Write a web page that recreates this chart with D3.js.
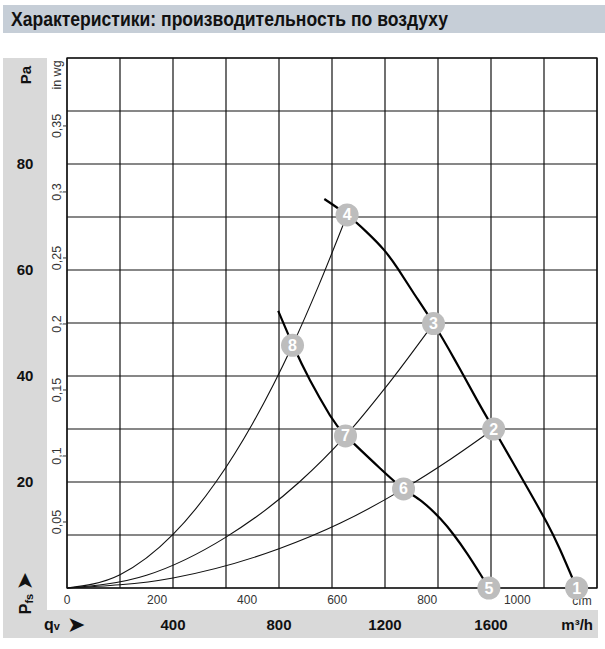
<!DOCTYPE html>
<html><head><meta charset="utf-8">
<script src="https://cdn.jsdelivr.net/npm/d3@7/dist/d3.min.js"></script>
<style>body{margin:0;background:#fff}svg{display:block}</style>
</head><body>
<svg id="c" width="605" height="649"></svg>
<script>
// ---- data (flow q in m³/h, static pressure in Pa) ----
const titleText = "Характеристики: производительность по воздуху";
const flowTicks = [400, 800, 1200, 1600];          // m³/h labels
const cfmTicks = [0, 200, 400, 600, 800, 1000];    // cfm labels
const paTicks = [20, 40, 60, 80];                   // Pa labels
const inwgTicks = [0.05, 0.1, 0.15, 0.2, 0.25, 0.3, 0.35];
const inwgLabels = ["0,05", "0,1", "0,15", "0,2", "0,25", "0,3", "0,35"];

// fan curve, high speed
const fanHighQ  = [971, 1057, 1130, 1196, 1249, 1306, 1383, 1464, 1547, 1610, 1736, 1811, 1860, 1923];
const fanHighPa = [73.4, 70.4, 67.2, 63.8, 60.2, 55.8, 49.9, 43.0, 35.5, 30.0, 19.0, 12.3, 7.3, 0];
// fan curve, low speed
const fanLowQ  = [797, 853, 917, 992, 1053, 1181, 1270, 1340, 1410, 1460, 1510, 1560, 1592];
const fanLowPa = [52.3, 45.8, 39.2, 32.6, 28.7, 22.6, 18.7, 16.3, 13.0, 10.0, 6.5, 2.6, 0];
// system curves
const sysAQ  = [0, 200, 400, 562, 700, 851, 950, 1057];
const sysAPa = [0, 2.5, 10.1, 20, 31, 45.8, 57.1, 70.4];
const sysBQ  = [0, 300, 600, 877, 1051, 1200, 1383];
const sysBPa = [0, 2.4, 9.6, 20, 28.7, 37.7, 49.9];
const sysCQ  = [0, 400, 800, 1030, 1270, 1450, 1610];
const sysCPa = [0, 1.9, 7.4, 12.2, 18.7, 24.4, 30];
// operating points
const ptLabels = ["1", "2", "3", "4", "5", "6", "7", "8"];
const ptQ  = [1923, 1610, 1383, 1057, 1592, 1270, 1051, 851];
const ptPa = [0, 30.0, 49.9, 70.4, 0, 18.7, 28.7, 45.8];

const CFM = 1.699, INWG = 249.09;
const FONT = "Arial, 'Liberation Sans', sans-serif";

const svg = d3.select("#c");
const x = d3.scaleLinear().domain([0, 2000]).range([67, 597]);
const y = d3.scaleLinear().domain([0, 100]).range([588, 58]);

// backgrounds
svg.append("rect").attr("x", 3).attr("y", 5).attr("width", 602).attr("height", 28).attr("fill", "#c6ced7");
svg.append("text").attr("x", 11).attr("y", 26)
  .attr("font-family", "'Liberation Sans Narrow','Arial Narrow','Liberation Sans',sans-serif")
  .attr("font-weight", "bold").attr("font-size", 20).attr("fill", "#111")
  .attr("textLength", 437).attr("lengthAdjust", "spacingAndGlyphs").text(titleText);
svg.append("rect").attr("x", 3).attr("y", 58).attr("width", 44).attr("height", 580).attr("fill", "#d9d9d9");
svg.append("rect").attr("x", 3).attr("y", 610).attr("width", 595).attr("height", 28).attr("fill", "#d9d9d9");

// grid
const g = svg.append("g");
g.selectAll("line.v").data(d3.range(0, 2001, 200)).join("line")
  .attr("x1", d => x(d)).attr("x2", d => x(d)).attr("y1", y(0)).attr("y2", y(100))
  .attr("stroke", "#111").attr("stroke-width", 1.2);
g.selectAll("line.h").data(d3.range(0, 101, 10)).join("line")
  .attr("y1", d => y(d)).attr("y2", d => y(d)).attr("x1", x(0)).attr("x2", x(2000))
  .attr("stroke", "#111").attr("stroke-width", 1.2);
g.append("rect").attr("x", x(0)).attr("y", y(100)).attr("width", x(2000) - x(0)).attr("height", y(0) - y(100))
  .attr("fill", "none").attr("stroke", "#111").attr("stroke-width", 1.3);

// in wg axis
const yw = d3.scaleLinear().domain([0, 100 / INWG]).range([588, 58]);
inwgTicks.forEach((v, i) => {
  svg.append("line").attr("x1", 63).attr("x2", 67).attr("y1", yw(v)).attr("y2", yw(v)).attr("stroke", "#333");
  svg.append("text").attr("transform", `translate(61,${yw(v)}) rotate(-90)`)
    .attr("text-anchor", "middle").attr("font-family", FONT)
    .attr("font-size", 12.5).attr("fill", "#333").text(inwgLabels[i]);
});
svg.append("text").attr("transform", "translate(61,75) rotate(-90)").attr("text-anchor", "middle")
  .attr("font-family", FONT).attr("font-size", 12.5).attr("fill", "#333").text("in wg");

// Pa axis
paTicks.forEach(v => {
  svg.append("text").attr("x", 25).attr("y", y(v) + 5).attr("text-anchor", "middle")
    .attr("font-family", FONT).attr("font-weight", "bold")
    .attr("font-size", 15).attr("fill", "#111").text(v);
});
svg.append("text").attr("transform", "translate(31,75) rotate(-90)").attr("text-anchor", "middle")
  .attr("font-family", FONT).attr("font-weight", "bold")
  .attr("font-size", 15).attr("fill", "#111").text("Pa");
// Pfs label
const pfs = svg.append("text").attr("transform", "translate(31,604) rotate(-90)").attr("text-anchor", "middle")
  .attr("font-family", FONT).attr("font-weight", "bold").attr("fill", "#111");
pfs.append("tspan").attr("font-size", 16).text("P");
pfs.append("tspan").attr("font-size", 11).attr("dy", 2).text("fs");
svg.append("text").attr("transform", "translate(32,581) rotate(-90)").attr("text-anchor", "middle")
  .attr("font-family", "'DejaVu Sans', sans-serif").attr("font-size", 22).attr("fill", "#111").text("➤");

// cfm axis
cfmTicks.forEach(v => {
  svg.append("text").attr("x", x(v * CFM)).attr("y", 604).attr("text-anchor", "middle")
    .attr("font-family", FONT).attr("font-size", 12).attr("fill", "#333").text(v);
});
svg.append("text").attr("x", 582).attr("y", 605).attr("text-anchor", "middle")
  .attr("font-family", FONT).attr("font-size", 12).attr("fill", "#333").text("cfm");

// m³/h axis
flowTicks.forEach(v => {
  svg.append("text").attr("x", x(v)).attr("y", 630).attr("text-anchor", "middle")
    .attr("font-family", FONT).attr("font-weight", "bold")
    .attr("font-size", 15).attr("fill", "#111").text(v);
});
svg.append("text").attr("x", 593).attr("y", 630).attr("text-anchor", "end")
  .attr("font-family", FONT).attr("font-weight", "bold")
  .attr("font-size", 15).attr("fill", "#111").text("m³/h");
const qv = svg.append("text").attr("x", 44).attr("y", 630)
  .attr("font-family", FONT).attr("font-weight", "bold").attr("fill", "#111");
qv.append("tspan").attr("font-size", 16).text("q");
qv.append("tspan").attr("font-size", 11).text("v");
svg.append("text").attr("x", 67).attr("y", 632)
  .attr("font-family", "'DejaVu Sans', sans-serif").attr("font-size", 22).attr("fill", "#111").text("➤");

// curves
const zip = (a, b) => a.map((v, i) => [v, b[i]]);
const line = d3.line().x(d => x(d[0])).y(d => y(d[1])).curve(d3.curveMonotoneX);
const lineN = d3.line().x(d => x(d[0])).y(d => y(d[1])).curve(d3.curveNatural);
[[sysAQ, sysAPa], [sysBQ, sysBPa], [sysCQ, sysCPa]].forEach(([q, p]) => {
  svg.append("path").attr("d", line(zip(q, p))).attr("fill", "none").attr("stroke", "#111").attr("stroke-width", 1.1);
});
[[fanHighQ, fanHighPa], [fanLowQ, fanLowPa]].forEach(([q, p]) => {
  svg.append("path").attr("d", lineN(zip(q, p))).attr("fill", "none").attr("stroke", "#000").attr("stroke-width", 2.2);
});

// points
const pts = svg.append("g").selectAll("g").data(ptLabels).join("g")
  .attr("transform", (d, i) => `translate(${x(ptQ[i])},${y(ptPa[i])})`);
pts.append("circle").attr("r", 11.5).attr("fill", "#bdbdbd");
pts.append("text").attr("text-anchor", "middle").attr("y", 5.5)
  .attr("font-family", FONT).attr("font-weight", "bold")
  .attr("font-size", 16).attr("fill", "#fff").text(d => d);
</script>
</body></html>
